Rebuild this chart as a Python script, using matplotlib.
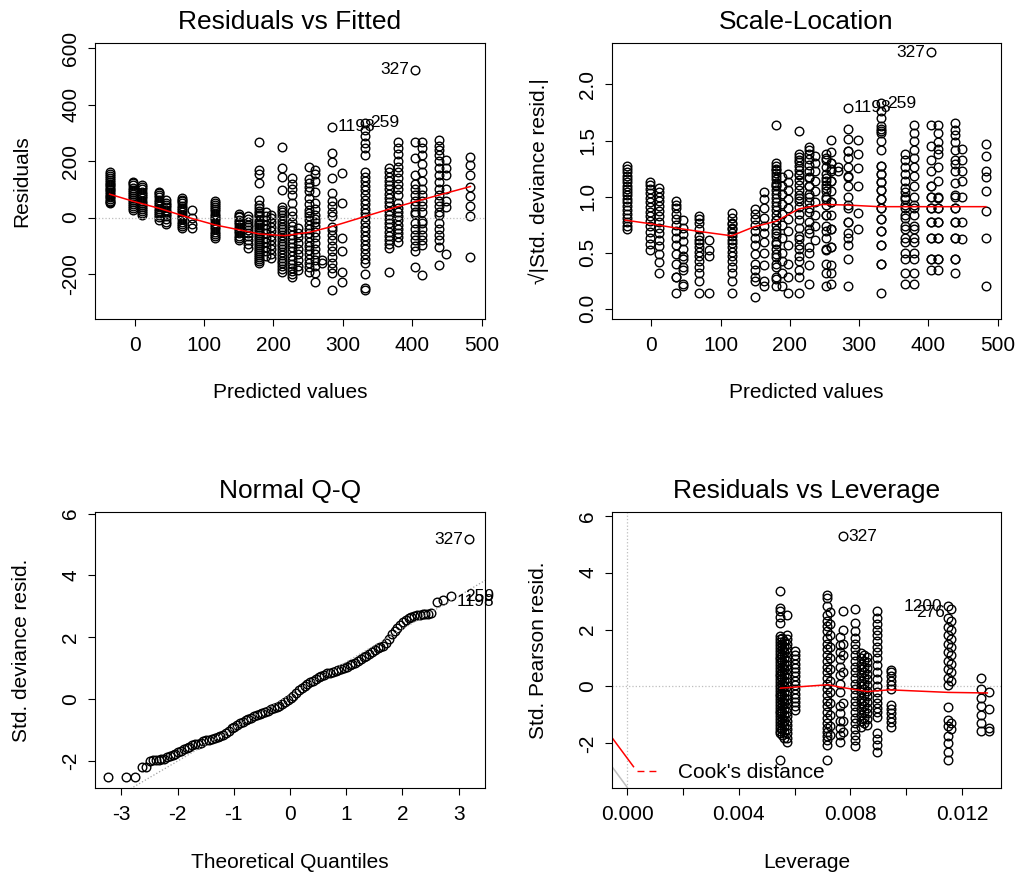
import numpy as np
import matplotlib
matplotlib.use("Agg")
import matplotlib.pyplot as plt
from matplotlib.lines import Line2D

plt.rcParams['font.family'] = ['Liberation Sans', 'DejaVu Sans']
plt.rcParams['axes.unicode_minus'] = False

# ---- Residuals vs Fitted: one column of residuals per fitted value ----
fit_x = [-36, -2, 11, 35, 45, 68, 83, 116, 150, 163, 180, 189, 197, 213, 227, 236,
         252, 260, 270, 284, 299, 332, 367, 380, 404, 414, 438, 449, 484]
fit_res = [
    [50, 55, 60, 66, 72, 78, 84, 90, 96, 102, 108, 114, 120, 127, 134, 141, 148, 155, 162],
    [27, 33, 40, 47, 54, 61, 68, 75, 82, 90, 98, 106, 114, 121, 127],
    [10, 17, 24, 31, 38, 45, 52, 60, 68, 76, 84, 92, 100, 108, 115],
    [-8, 2, 8, 16, 24, 32, 40, 48, 56, 64, 72, 80, 86, 92],
    [-22, -14, -5, 4, 12, 20, 28, 36, 44, 52, 62],
    [-37, -30, -22, -14, -6, 2, 10, 18, 26, 34, 42, 50, 58, 64, 69],
    [-38, -22, -2, 27],
    [-73, -66, -58, -50, -42, -34, -26, -18, -10, -2, 6, 14, 22, 30, 38, 46, 52, 57],
    [-79, -72, -64, -56, -48, -40, -32, -24, -16, -8, 1, 6, 12],
    [-108, -95, -80, -66, -55, -45, -35, -25, -15, -6, 4],
    [-161, -154, -147, -140, -133, -126, -119, -112, -105, -98, -91, -84, -77, -70, -63,
     -56, -49, -42, -35, -28, -21, -14, -7, 4, 8, 16, 24, 33, 45, 63, 122, 155, 169, 269],
    [-137, -120, -104, -88, -72, -56, -40, -25, -10, 4, 18],
    [-144, -128, -112, -96, -80, -64, -48, -32, -16, -2, 8],
    [-191, -182, -172, -162, -152, -142, -132, -122, -112, -102, -92, -82, -72, -62, -52,
     -42, -32, -22, -12, -2, 8, 18, 28, 39, 98, 145, 175, 251],
    [-209, -200, -190, -178, -165, -150, -135, -120, -105, -90, -75, -60, -45, -30, -15,
     5, 25, 50, 80, 100, 120, 139],
    [-185, -170, -150, -130, -110, -90, -70, -55, -38],
    [-191, -175, -160, -145, -130, -115, -100, -85, -70, -55, -40, -28, -10, 4, 16, 27,
     48, 70, 95, 110, 121, 135, 180],
    [-227, -196, -170, -150, -130, -110, -90, -70, -50, -30, -15, -5, 10, 30, 50, 90,
     130, 155, 169],
    [-160, -150],
    [-256, -197, -180, -160, -140, -120, -100, -80, -60, -45, -32, 4, 20, 40, 60, 86,
     139, 198, 230, 322],
    [-227, -191, -120, -73, 51, 157],
    [-256, -250, -200, -161, -145, -128, -112, -96, -80, -64, -48, -32, -16, 2, 16, 32,
     48, 64, 80, 96, 112, 128, 145, 163, 223, 245, 265, 290, 311, 336],
    [-191, -108, -95, -80, -65, -50, -35, -20, -5, 10, 25, 40, 55, 70, 85, 100, 115,
     130, 145, 160, 175],
    [-85, -70, -55, -40, -25, -10, 5, 20, 35, 50, 80, 100, 120, 140, 160, 180, 200,
     225, 245, 269],
    [-176, -120, -100, -80, -60, -40, -20, 12, 20, 40, 60, 80, 100, 120, 151, 210, 269, 524],
    [-203, -97, -80, -60, -40, -20, -12, 20, 40, 60, 80, 100, 130, 160, 190, 220, 245, 269],
    [-167, -103, -80, -60, -40, -20, 10, 20, 40, 60, 80, 100, 125, 150, 175, 200, 220,
     240, 255, 275],
    [-130, 39, 60, 100, 150, 175, 204],
    [-138, 4, 40, 76, 110, 150, 185, 216],
]
sigma_hat = 100.0  # residual scale read from the 327 point (524 -> 5.2 std.)

smooth1_x = [-36, -1, 35, 81, 116, 180, 216, 252, 284, 332, 371, 405, 439, 484]
smooth1_y = [83, 57, 33, -2, -26, -58, -64, -52, -32, 4, 33, 57, 80, 110]

smooth2_x = [-38, -4, 35, 68, 116, 148, 180, 213, 247, 281, 329, 483]
smooth2_y = [0.79, 0.76, 0.72, 0.69, 0.65, 0.73, 0.78, 0.89, 0.93, 0.925, 0.91, 0.91]

id_names = ['327', '1198', '259']
id_fit = [404, 284, 332]
id_res = [524, 322, 336]
id_side = [-1, 1, 1]

# ---- Normal Q-Q ----
qq_theo = [-3.24, -2.91, -2.76, -2.64, -2.57, -2.50, -2.44, -2.39, -2.34, -2.29, -2.24,
           -2.19, -2.14, -2.09, -2.04, -1.99, -1.94, -1.89, -1.84, -1.79, -1.74, -1.69,
           -1.64, -1.59, -1.54, -1.49, -1.44, -1.39, -1.34, -1.29, -1.24, -1.19, -1.14,
           -1.09, -1.04, -0.99, -0.94, -0.89, -0.84, -0.79, -0.74, -0.69, -0.64, -0.59,
           -0.54, -0.49, -0.44, -0.39, -0.34, -0.29, -0.24, -0.19, -0.14, -0.09, -0.04,
           0.01, 0.06, 0.11, 0.16, 0.21, 0.26, 0.31, 0.36, 0.41, 0.46, 0.51, 0.56, 0.61,
           0.66, 0.71, 0.76, 0.81, 0.86, 0.91, 0.96, 1.01, 1.06, 1.11, 1.16, 1.21, 1.26,
           1.31, 1.36, 1.41, 1.46, 1.51, 1.56, 1.61, 1.66, 1.71, 1.76, 1.81, 1.86, 1.91,
           1.96, 2.01, 2.06, 2.11, 2.16, 2.21, 2.26, 2.31, 2.36, 2.41, 2.46, 2.51, 2.61,
           2.73, 2.87, 3.19]
qq_resid = [-2.52, -2.52, -2.52, -2.21, -2.21, -2.02, -1.99, -1.98, -1.97, -1.96, -1.94,
            -1.90, -1.86, -1.82, -1.78, -1.73, -1.68, -1.64, -1.60, -1.55, -1.51, -1.48,
            -1.45, -1.42, -1.38, -1.35, -1.32, -1.29, -1.27, -1.25, -1.22, -1.17, -1.10,
            -1.03, -0.96, -0.90, -0.85, -0.80, -0.75, -0.70, -0.65, -0.61, -0.57, -0.54,
            -0.50, -0.46, -0.42, -0.38, -0.34, -0.30, -0.27, -0.23, -0.18, -0.12, -0.05,
            0.02, 0.10, 0.18, 0.27, 0.35, 0.42, 0.48, 0.54, 0.59, 0.64, 0.69, 0.74, 0.78,
            0.82, 0.85, 0.88, 0.91, 0.94, 0.97, 1.00, 1.04, 1.08, 1.12, 1.17, 1.23, 1.29,
            1.35, 1.40, 1.46, 1.52, 1.58, 1.63, 1.68, 1.72, 1.82, 1.95, 2.10, 2.20, 2.30,
            2.40, 2.48, 2.55, 2.61, 2.65, 2.68, 2.70, 2.72, 2.73, 2.74, 2.76, 2.78, 3.12,
            3.21, 3.34, 5.17]
qqline_x = [-3.6, 3.6]
qqline_y = [-3.73, 3.97]

# ---- Residuals vs Leverage ----
lev_x = [0.00549, 0.00555, 0.00561, 0.00573, 0.00603, 0.00717, 0.00727, 0.00761, 0.00774,
         0.00816, 0.00837, 0.00848, 0.00860, 0.00894, 0.00944, 0.01150, 0.01160,
         0.01268, 0.01295]
lev_res = [
    [-2.58, -1.64, -1.55, -1.45, -1.35, -1.25, -1.15, -1.05, -0.95, -0.85, -0.75, -0.65,
     -0.55, -0.45, -0.35, -0.25, -0.15, -0.05, 0.05, 0.15, 0.25, 0.35, 0.45, 0.55, 0.65,
     0.75, 0.85, 0.95, 1.05, 1.15, 1.25, 1.35, 1.45, 1.55, 1.65, 1.76, 2.24, 2.45, 2.65,
     2.77, 3.35],
    [-1.7, -1.5, -1.3, -1.1, -0.9, -0.7, -0.5, -0.3, -0.1, 0.1, 0.3, 0.5, 0.7, 0.9, 1.1,
     1.3, 1.5, 1.7],
    [-1.8, -1.6, -1.4, -1.2, -1.0, -0.8, -0.6, -0.4, -0.2, 0.0, 0.2, 0.4, 0.6, 0.8, 1.0,
     1.2, 1.4, 1.6],
    [-1.94, -1.8, -1.65, -1.5, -1.35, -1.2, -1.05, -0.9, -0.75, -0.6, -0.45, -0.3, -0.15,
     0.0, 0.15, 0.3, 0.45, 0.6, 0.75, 0.9, 1.05, 1.2, 1.35, 1.5, 1.65, 1.82, 2.52],
    [-0.82, -0.7, -0.55, -0.4, -0.25, -0.1, 0.05, 0.2, 0.35, 0.5, 0.65, 0.8, 0.95, 1.1, 1.23],
    [-2.58, -2.05, -1.9, -1.75, -1.6, -1.45, -1.3, -1.1, -0.9, -0.7, -0.5, -0.3, -0.1,
     0.1, 0.3, 0.5, 0.7, 0.9, 1.1, 1.3, 1.5, 1.7, 1.94, 2.11, 2.3, 2.5, 2.82, 3.1, 3.23],
    [-1.7, -1.4, -1.0, -0.6, -0.2, 0.2, 0.6, 1.0, 1.4, 1.8, 2.2, 2.6],
    [-1.95, -1.7, -1.45, -1.2, -0.95, -0.7, -0.2, 0.1, 0.4, 0.7, 0.95, 1.2, 1.45, 1.72],
    [-1.6, -1.2, -0.6, 0.5, 1.1, 1.5, 2.0, 2.64, 5.28],
    [-2.11, -1.9, -1.7, -1.5, -1.3, -1.1, -0.9, -0.7, -0.5, -0.3, -0.1, 0.1, 0.3, 0.5,
     0.7, 0.9, 1.1, 1.3, 1.5, 1.7, 1.95, 2.23, 2.72],
    [-1.41, -1.2, -1.0, -0.8, -0.6, -0.4, -0.2, 0.0, 0.2, 0.4, 0.6, 0.8, 1.0, 1.19],
    [-1.3, -1.1, -0.9, -0.7, -0.5, -0.3, -0.1, 0.1, 0.3, 0.5, 0.7, 0.9, 1.1],
    [-1.35, -1.15, -0.95, -0.75, -0.55, -0.35, -0.15, 0.05, 0.25, 0.45, 0.65, 0.85, 1.05],
    [-2.29, -2.05, -1.85, -1.63, -1.06, -0.9, -0.75, -0.6, -0.4, -0.2, 0.0, 0.25, 0.5,
     0.75, 1.0, 1.2, 1.4, 1.6, 1.8, 2.0, 2.2, 2.4, 2.64],
    [-1.41, -1.25, -1.1, -0.95, -0.8, -0.65, -0.1, 0.05, 0.2, 0.35, 0.5, 0.59],
    [-2.58, -2.3, -2.0, -1.75, -1.4, -1.17, -0.74, 0.06, 0.3, 0.6, 0.9, 1.2, 1.5, 1.8,
     2.1, 2.4, 2.82],
    [-1.5, -1.3, 0.2, 0.5, 0.8, 1.1, 1.4, 1.65, 2.0, 2.3, 2.72],
    [-1.58, -1.3, -1.0, -0.7, -0.4, -0.1, 0.3],
    [-1.55, -1.45, -0.8, -0.2],
]
smooth4_x = [0.0055, 0.0072, 0.0076, 0.0086, 0.0094, 0.0115, 0.0129]
smooth4_y = [-0.06, 0.06, -0.02, -0.18, -0.12, -0.21, -0.23]
cook_x = [-0.00054, 0.00023]
cook_y = [-1.80, -2.82]
gray_x = [-0.00054, 0.0]
gray_y = [-2.82, -3.54]
lev_id_names = ['327', '1200', '276']
lev_id_x = [0.00774, 0.0115, 0.0116]
lev_id_y = [5.28, 2.82, 2.60]
lev_id_side = [1, -1, -1]
lev_ticks = [0.000, 0.002, 0.004, 0.006, 0.008, 0.010, 0.012]
lev_ticklabels = ['0.000', '', '0.004', '', '0.008', '', '0.012']

# ------------------------------------------------------------------
W, H = 1019, 874
fig = plt.figure(figsize=(W / 100, H / 100), dpi=100)

LAB = 15
TIT = 19
IDS = 12.5
pt = dict(marker='o', ls='none', mfc='none', mec='black', ms=6.2, mew=1.0)


def make_axes(left, top, right, bottom):
    ax = fig.add_axes([left / W, 1 - bottom / H, (right - left) / W, (bottom - top) / H])
    for s in ax.spines.values():
        s.set_linewidth(0.8)
    ax.tick_params(length=5, width=0.8, labelsize=LAB)
    ax.tick_params(axis='x', pad=7.5)
    ax.tick_params(axis='y', pad=5.5, labelrotation=90)
    return ax


def finish(ax, title, xlabel, ylabel):
    for lab in ax.get_yticklabels():
        lab.set_va('center')
    ax.text(0.5, 1 + 21 / 276, title, transform=ax.transAxes, ha='center', va='center',
            fontsize=TIT)
    ax.set_xlabel(xlabel, fontsize=LAB)
    ax.xaxis.set_label_coords(0.5, -74 / 276)
    ax.xaxis.label.set_va('center')
    ax.set_ylabel(ylabel, fontsize=LAB)
    ax.yaxis.set_label_coords(-73 / 389, 0.5)
    ax.yaxis.label.set_va('center')
    ax.yaxis.label.set_ha('center')


def label_points(ax, names, xs, ys, sides):
    for n, x, y, s in zip(names, xs, ys, sides):
        ax.annotate(n, (x, y), xytext=(4 * s, 0), textcoords='offset points',
                    ha='left' if s > 0 else 'right', va='center', fontsize=IDS)


# Panel 1: Residuals vs Fitted
ax1 = make_axes(95, 43, 485, 319)
for x, rs in zip(fit_x, fit_res):
    ax1.plot([x] * len(rs), rs, **pt)
ax1.axhline(0, color='#BEBEBE', ls=':', lw=0.9)
ax1.plot(smooth1_x, smooth1_y, color='red', lw=1.1)
label_points(ax1, id_names, id_fit, id_res, id_side)
ax1.set_xlim(-57, 505)
ax1.set_ylim(-359, 618)
ax1.set_xticks([0, 100, 200, 300, 400, 500])
ax1.set_yticks([-200, 0, 200, 400, 600])
finish(ax1, 'Residuals vs Fitted', 'Predicted values', 'Residuals')

# Panel 2: Scale-Location (sqrt of |standardised residual|)
ax2 = make_axes(612, 43, 1001, 319)
for x, rs in zip(fit_x, fit_res):
    sl = np.sqrt(np.abs(np.array(rs, dtype=float)) / sigma_hat)
    ax2.plot([x] * len(rs), sl, **pt)
ax2.plot(smooth2_x, smooth2_y, color='red', lw=1.1)
label_points(ax2, id_names, id_fit,
             list(np.sqrt(np.abs(np.array(id_res, dtype=float)) / sigma_hat)), id_side)
ax2.set_xlim(-57, 505)
ax2.set_ylim(-0.092, 2.37)
ax2.set_xticks([0, 100, 200, 300, 400, 500])
ax2.set_yticks([0.0, 0.5, 1.0, 1.5, 2.0])
ax2.set_yticklabels(['0.0', '0.5', '1.0', '1.5', '2.0'])
finish(ax2, 'Scale-Location', 'Predicted values', '\u221a|Std. deviance resid.|')

# Panel 3: Normal Q-Q
ax3 = make_axes(95, 512, 485, 788)
ax3.plot(qq_theo, qq_resid, **pt)
ax3.plot(qqline_x, qqline_y, color='#A0A0A0', ls=':', lw=0.9)
ax3.annotate('327', (qq_theo[-1], qq_resid[-1]), xytext=(-4, 0), textcoords='offset points',
             ha='right', va='center', fontsize=IDS)
ax3.annotate('1198', (qq_theo[-2], 3.14), xytext=(4, 0), textcoords='offset points',
             ha='left', va='center', fontsize=IDS)
ax3.annotate('259', (qq_theo[-2], 3.32), xytext=(10, 0), textcoords='offset points',
             ha='left', va='center', fontsize=IDS)
ax3.set_xlim(-3.47, 3.47)
ax3.set_ylim(-2.89, 6.05)
ax3.set_xticks([-3, -2, -1, 0, 1, 2, 3])
ax3.set_yticks([-2, 0, 2, 4, 6])
finish(ax3, 'Normal Q-Q', 'Theoretical Quantiles', 'Std. deviance resid.')

# Panel 4: Residuals vs Leverage
ax4 = make_axes(612, 512, 1001, 788)
ax4.axhline(0, color='#BEBEBE', ls=':', lw=0.9)
ax4.axvline(0, color='#BEBEBE', ls=':', lw=0.9)
for x, rs in zip(lev_x, lev_res):
    ax4.plot([x] * len(rs), rs, **pt)
ax4.plot(smooth4_x, smooth4_y, color='red', lw=1.1)
ax4.plot(cook_x, cook_y, color='red', lw=1.1)
ax4.plot(gray_x, gray_y, color='#BEBEBE', lw=1.1)
label_points(ax4, lev_id_names, lev_id_x, lev_id_y, lev_id_side)
ax4.set_xlim(-0.00054, 0.01339)
ax4.set_ylim(-3.57, 6.13)
ax4.set_xticks(lev_ticks)
ax4.set_xticklabels(lev_ticklabels)
ax4.set_yticks([-2, 0, 2, 4, 6])
ax4.legend(handles=[Line2D([], [], color='red', ls='--', lw=1.0, dashes=(5, 3.6))],
           labels=["Cook's distance"], loc='lower left', bbox_to_anchor=(0.064, 0.02),
           frameon=False, fontsize=LAB, handlelength=0.95, handletextpad=1.0,
           borderpad=0, borderaxespad=0)
finish(ax4, 'Residuals vs Leverage', 'Leverage', 'Std. Pearson resid.')

fig.savefig('out.png', dpi=100)
